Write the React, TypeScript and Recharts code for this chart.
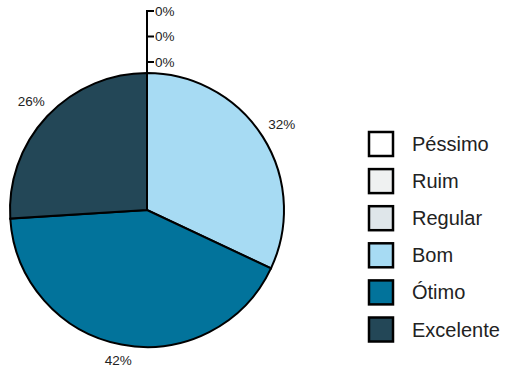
import React from 'react';
import { PieChart, Pie, Cell, Legend } from 'recharts';

const categories = ['Péssimo', 'Ruim', 'Regular', 'Bom', 'Ótimo', 'Excelente'];
const values = [0, 0, 0, 32, 42, 26];
const colors = ['#ffffff', '#eff1f1', '#dfe6ea', '#a7dbf3', '#02739b', '#234757'];

const data = categories.map((name, i) => ({ name, value: values[i] }));

const FONT = '"Liberation Sans", Arial, sans-serif';
const RADIAN = Math.PI / 180;
const zeroCount = values.filter((v) => v === 0).length;
const LABEL_SIZE = 13.5;

// labels: zero slices get stacked on a leader line above the pie
const renderLabel = (props: any) => {
  const { cx, cy, midAngle, outerRadius, percent, index, value } = props;
  if (value === 0) {
    const topY = cy - outerRadius;
    const tickY = topY - 11 - 25.5 * (zeroCount - 1 - index);
    return (
      <g key={`lbl-${index}`}>
        <line x1={cx} y1={topY} x2={cx} y2={tickY - 1} stroke="#000" strokeWidth={2} />
        <line x1={cx} y1={tickY} x2={cx + 7} y2={tickY} stroke="#000" strokeWidth={2} />
        <text x={cx + 8} y={tickY} dominantBaseline="central" fontSize={LABEL_SIZE} fontFamily={FONT} fill="#222">
          0%
        </text>
      </g>
    );
  }
  const cos = Math.cos(-midAngle * RADIAN);
  const sin = Math.sin(-midAngle * RADIAN);
  // keep the label box a fixed gap away from the rim
  const r = outerRadius + 9 + Math.abs(cos) * 13 + Math.abs(sin) * 5;
  const x = cx + r * cos;
  const y = cy + r * sin;
  return (
    <text
      key={`lbl-${index}`}
      x={x}
      y={y}
      textAnchor="middle"
      dominantBaseline="central"
      fontSize={LABEL_SIZE}
      fontFamily={FONT}
      fill="#222"
    >
      {`${Math.round(percent * 100)}%`}
    </text>
  );
};

const renderLegend = () => (
  <svg width={140} height={225}>
    {categories.map((name, i) => {
      const cyRow = 16 + 37.1 * i;
      return (
        <g key={name}>
          <rect x={3} y={cyRow - 12} width={24} height={24} fill={colors[i]} stroke="#000" strokeWidth={2.5} />
          <text x={46} y={cyRow} dominantBaseline="central" fontSize={20} fontFamily={FONT} fill="#222">
            {name}
          </text>
        </g>
      );
    })}
  </svg>
);

export default function App() {
  return (
    <div style={{ position: 'absolute', left: 0, top: 0, background: '#fff' }}>
      <PieChart width={505} height={369} margin={{ top: 0, right: 0, bottom: 0, left: 0 }}>
        <Pie
          data={data}
          dataKey="value"
          nameKey="name"
          cx={147}
          cy={210}
          outerRadius={137}
          startAngle={90}
          endAngle={-270}
          stroke="#000"
          strokeWidth={2}
          label={renderLabel}
          labelLine={false}
          isAnimationActive={false}
        >
          {data.map((d, i) => (
            <Cell key={d.name} fill={colors[i]} />
          ))}
        </Pie>
        <Legend
          content={renderLegend}
          wrapperStyle={{ position: 'absolute', left: 366, top: 128, width: 140, height: 225 }}
        />
      </PieChart>
    </div>
  );
}
